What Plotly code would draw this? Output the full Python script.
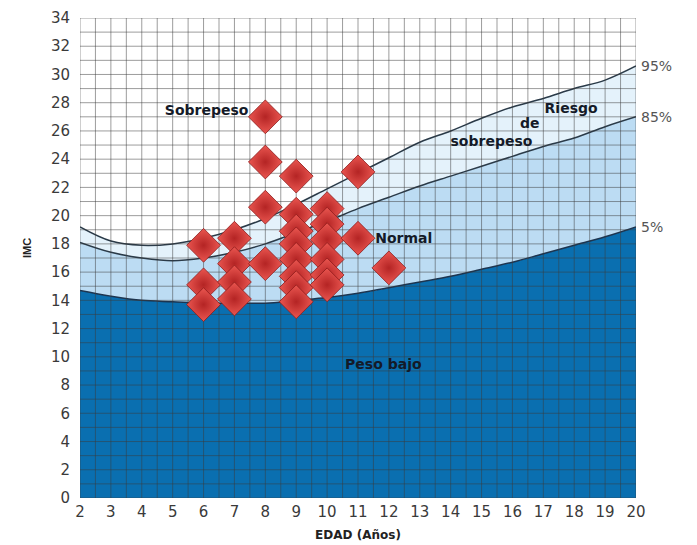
import numpy as np
import plotly.graph_objects as go

# Percentile curves (IMC vs EDAD)
ages = [2, 3, 4, 5, 6, 7, 8, 9, 10, 11, 12, 13, 14, 15, 16, 17, 18, 19, 20]
p5 = [14.7, 14.3, 14.0, 13.9, 13.8, 13.8, 13.8, 14.0, 14.2, 14.5, 14.9, 15.3, 15.7, 16.2, 16.7, 17.3, 17.9, 18.5, 19.2]
p85 = [18.1, 17.4, 17.0, 16.8, 17.0, 17.4, 18.0, 18.8, 19.6, 20.5, 21.3, 22.1, 22.8, 23.5, 24.2, 24.9, 25.5, 26.3, 27.0]
p95 = [19.2, 18.2, 17.9, 18.0, 18.4, 19.0, 19.8, 20.8, 21.9, 23.0, 24.1, 25.2, 26.0, 26.9, 27.7, 28.3, 29.0, 29.6, 30.6]

# Observed children (age, IMC)
obs_age = [6, 6, 6,
           7, 7, 7, 7,
           8, 8, 8, 8,
           9, 9, 9, 9, 9, 9, 9, 9,
           10, 10, 10, 10, 10, 10,
           11, 11,
           12]
obs_imc = [17.9, 15.1, 13.7,
           18.4, 16.6, 15.3, 14.1,
           27.0, 23.8, 20.6, 16.6,
           22.8, 20.1, 18.9, 18.0, 16.9, 15.7, 14.9, 13.9,
           20.5, 19.4, 18.3, 16.9, 15.8, 15.1,
           23.1, 18.4,
           16.3]

x_ticks = list(range(2, 21))
y_ticks = list(range(0, 35, 2))

zone_text = ["Sobrepeso", "Normal", "Peso bajo", "Riesgo", "de", "sobrepeso"]
zone_x = [6.1, 12.48, 11.82, 17.9, 16.56, 15.32]
zone_y = [27.35, 18.3, 9.4, 27.5, 26.45, 25.15]
pct_labels = [("95%", 30.6), ("85%", 27.0), ("5%", 19.2)]

WIDE = "DejaVu Sans, Verdana, sans-serif"

fig = go.Figure()

fig.add_trace(go.Scatter(x=ages, y=p5, mode="lines", fill="tozeroy",
                         fillcolor="#0a6fb0", line=dict(color="#1d3550", width=1.5),
                         line_shape="spline", showlegend=False, hoverinfo="skip"))
fig.add_trace(go.Scatter(x=ages, y=p85, mode="lines", fill="tonexty",
                         fillcolor="#bcdcf3", line=dict(color="#2a3a48", width=1.5),
                         line_shape="spline", showlegend=False, hoverinfo="skip"))
fig.add_trace(go.Scatter(x=ages, y=p95, mode="lines", fill="tonexty",
                         fillcolor="#e4f2fb", line=dict(color="#2a3a48", width=1.5),
                         line_shape="spline", showlegend=False, hoverinfo="skip"))

# Grid drawn over the filled bands
gx, gy = [], []
for xv in np.arange(2, 20.001, 0.5):
    gx += [xv, xv, None]
    gy += [0, 34, None]
for yv in range(0, 35):
    gx += [2, 20, None]
    gy += [yv, yv, None]
fig.add_trace(go.Scatter(x=gx, y=gy, mode="lines",
                         line=dict(color="rgba(60,60,60,0.5)", width=1),
                         showlegend=False, hoverinfo="skip"))

# Zone labels (under the markers, as in the reference)
fig.add_trace(go.Scatter(x=zone_x, y=zone_y, mode="text",
                         text=[f"<b>{t}</b>" for t in zone_text],
                         textfont=dict(family=WIDE, size=14, color="#141a28"),
                         showlegend=False, hoverinfo="skip"))

fig.add_trace(go.Scatter(x=obs_age, y=obs_imc, mode="markers",
                         marker=dict(symbol="diamond", size=26, color="#ea5650",
                                     gradient=dict(type="radial", color="#b42424"),
                                     line=dict(color="#8e1a1a", width=0.8)),
                         showlegend=False))

fig.add_annotation(x=1.004, xref="paper", y=34.15, yref="y", text="percentil", showarrow=False,
                   xanchor="left", font=dict(family=WIDE, size=12, color="#444"))
for txt, yv in pct_labels:
    fig.add_annotation(x=1.006, xref="paper", y=yv, yref="y", text=txt, showarrow=False,
                       xanchor="left", font=dict(family=WIDE, size=14, color="#555"))

fig.add_annotation(x=-0.11, xref="paper", y=17.7, yref="y", text="<b>IMC</b>", showarrow=False,
                   textangle=-90, font=dict(family="Liberation Sans, Arial", size=11, color="#222"))

fig.update_layout(
    width=689, height=537,
    margin=dict(l=72, r=61, t=10, b=47),
    paper_bgcolor="white", plot_bgcolor="white",
    font=dict(family=WIDE, color="#333"),
    xaxis=dict(range=[2, 20], tickvals=x_ticks, showgrid=False, zeroline=False, automargin=False,
               tickfont=dict(family=WIDE, size=15, color="#3a3a3a"), ticks="", ticklen=0,
               ticklabelstandoff=3,
               title=dict(text="<b>EDAD (Años)</b>", font=dict(family=WIDE, size=12, color="#222"),
                          standoff=10)),
    yaxis=dict(range=[0, 34], tickvals=y_ticks, showgrid=False, zeroline=False, automargin=False,
               tickfont=dict(family=WIDE, size=15, color="#3a3a3a"), ticks="", ticklabelstandoff=9),
)

fig.write_html("out.html")
